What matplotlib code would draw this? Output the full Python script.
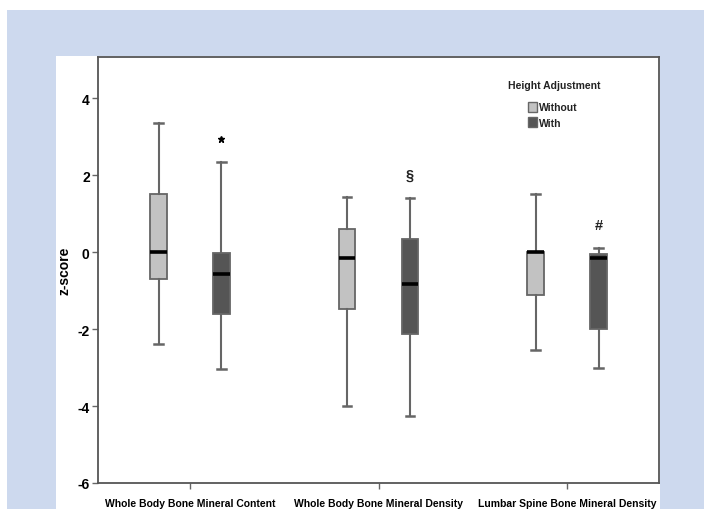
import numpy as np
import matplotlib
matplotlib.use("Agg")
import matplotlib.pyplot as plt
from matplotlib.patches import Rectangle, Patch

plt.rcParams['font.family'] = ['Liberation Sans', 'DejaVu Sans']

# values (z-scores)
categories = ["Whole Body Bone Mineral Content",
              "Whole Body Bone Mineral Density",
              "Lumbar Spine Bone Mineral Density"]
series = ["Without", "With"]

# whisker low, Q1, median, Q3, whisker high
without_stats = [
    [-2.38, -0.71, 0.00, 1.50, 3.35],
    [-3.99, -1.48, -0.15, 0.59, 1.43],
    [-2.54, -1.12, -0.01, 0.00, 1.52],
]
with_stats = [
    [-3.03, -1.60, -0.57, -0.02, 2.33],
    [-4.25, -2.12, -0.84, 0.34, 1.40],
    [-3.01, -1.99, -0.15, -0.04, 0.11],
]
with_outliers = [[2.93], [], []]
markers = ["", "§", "#"]
marker_y = [0, 2.0, 0.70]

colors = {"Without": "#c2c2c2", "With": "#555555"}

def to_bxp(rows, fliers=None):
    out = []
    for i, (lo, q1, med, q3, hi) in enumerate(rows):
        out.append(dict(whislo=lo, q1=q1, med=med, q3=q3, whishi=hi,
                        fliers=(fliers[i] if fliers else [])))
    return out

fig = plt.figure(figsize=(7.04, 5.10), dpi=100)
W, H = 704, 510
fig.patches.append(Rectangle((7 / W, 0), 1 - 7 / W, 1 - 11 / H, transform=fig.transFigure,
                             facecolor="#cdd9ee", edgecolor="none", zorder=-10))
fig.patches.append(Rectangle((56 / W, 0), (660 - 56) / W, 1 - 57 / H, transform=fig.transFigure,
                             facecolor="white", edgecolor="none", zorder=-9))

ax = fig.add_axes([98 / W, 1 - 484 / H, (658.5 - 98) / W, (484 - 58) / H])
ax.set_facecolor("white")

x = np.arange(len(categories))
off = 0.167
bw = 0.088
edge = "#666666"
for name, rows, fl, sign in [("Without", without_stats, None, -1),
                             ("With", with_stats, with_outliers, 1)]:
    ax.bxp(to_bxp(rows, fl), positions=x + sign * off, widths=bw, capwidths=0.045,
           patch_artist=True, manage_ticks=False,
           boxprops=dict(facecolor=colors[name], edgecolor=edge, linewidth=1.3),
           medianprops=dict(color="black", linewidth=2.6),
           whiskerprops=dict(color=edge, linewidth=1.5),
           capprops=dict(color=edge, linewidth=1.8),
           flierprops=dict(marker="*", markersize=5, markerfacecolor="black",
                           markeredgecolor="black"))

for i, m in enumerate(markers):
    if m:
        ax.text(x[i] + off, marker_y[i], m, ha="center", va="center",
                fontsize=10.5, fontweight="bold", color="#222222")

ax.set_xlim(-0.488, 2.485)
ax.set_ylim(-6, 5.07)
ax.set_yticks([-6, -4, -2, 0, 2, 4])
ax.set_yticklabels(["-6", "-4", "-2", "0", "2", "4"], fontsize=10, fontweight="bold")
ax.set_xticks(x)
ax.set_xticklabels(categories, fontsize=7.5, fontweight="bold")
ax.tick_params(axis="both", direction="out", length=4, width=1, color=edge)
ax.tick_params(axis="y", pad=2)
ax.tick_params(axis="x", pad=7)
ax.set_ylabel("z-score", fontsize=10, fontweight="bold", labelpad=4)
for s in ax.spines.values():
    s.set_color("#555555")
    s.set_linewidth(1.3)

# legend: title drawn separately so the gap above the entries matches
ax.text(0.8135, 0.934, "Height Adjustment", transform=ax.transAxes, ha="center",
        va="center", fontsize=7.5, fontweight="bold", color="#222222")
handles = [Patch(facecolor=colors[s], edgecolor=edge, label=s) for s in series]
leg = ax.legend(handles=handles, loc="upper left", bbox_to_anchor=(0.768, 0.895),
                frameon=False, fontsize=7.5, handlelength=0.85, handleheight=1.1,
                handletextpad=0.15, labelspacing=0.45, borderpad=0, borderaxespad=0)
for t in leg.get_texts():
    t.set_fontweight("bold")
    t.set_color("#222222")

fig.savefig("out.png", dpi=100, facecolor="white")
